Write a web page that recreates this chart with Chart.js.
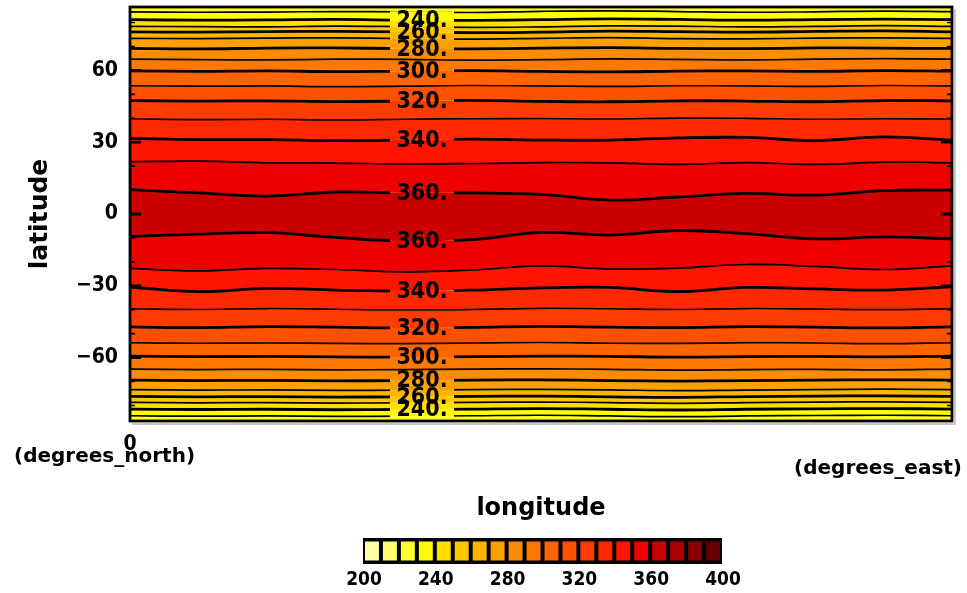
<!DOCTYPE html>
<html>
<head>
<meta charset="utf-8">
<script src="https://cdn.jsdelivr.net/npm/chart.js@4.4.1/dist/chart.umd.min.js"></script>
<style>
  html, body { margin: 0; padding: 0; background: #fff; }
</style>
</head>
<body>
<canvas id="chart" width="967" height="593"></canvas>
<script>
// ── Data ───────────────────────────────────────────────────
const lons = [0, 30, 60, 90, 120, 150, 180, 210, 240, 270, 300, 330, 360];
const levels = [230, 240, 250, 260, 270, 280, 290, 300, 310, 320, 330, 340, 350, 360];

// latitude of each contour at every longitude in `lons`, same order as `levels`
const latNorth = [
    [84.5, 84.3, 84.4, 84.6, 84.5, 84.2, 84.7, 84.9, 84.6, 84.3, 84.5, 84.8, 84.6],
    [81.2, 81.0, 81.1, 81.3, 81.0, 80.9, 81.2, 81.5, 81.3, 81.0, 81.2, 81.4, 81.2],
    [78.4, 78.3, 78.2, 78.5, 78.3, 78.0, 78.2, 78.6, 78.5, 78.2, 78.4, 78.7, 78.4],
    [76.1, 76.0, 76.2, 76.3, 76.1, 75.8, 76.0, 76.4, 76.2, 76.0, 76.3, 76.5, 76.1],
    [73.4, 73.3, 73.5, 73.6, 73.3, 73.1, 73.4, 73.7, 73.3, 73.2, 73.5, 73.6, 73.4],
    [69.2, 69.0, 69.3, 69.4, 69.1, 69.0, 69.3, 69.5, 69.2, 69.1, 69.4, 69.3, 69.2],
    [64.7, 64.5, 64.4, 64.7, 64.6, 64.3, 64.5, 64.8, 64.6, 64.4, 64.7, 64.9, 64.7],
    [59.8, 59.6, 59.8, 59.5, 59.7, 59.9, 59.6, 59.4, 59.7, 59.8, 59.6, 59.9, 59.7],
    [53.6, 53.4, 53.5, 53.2, 53.4, 53.7, 53.5, 53.3, 53.6, 53.5, 53.3, 53.7, 53.5],
    [47.4, 47.2, 47.3, 47.0, 47.2, 47.5, 47.1, 46.9, 47.3, 47.2, 46.9, 47.4, 47.3],
    [39.8, 39.4, 39.6, 39.3, 39.6, 39.8, 39.9, 39.7, 40.1, 40.0, 39.6, 39.8, 39.7],
    [31.6, 31.1, 31.1, 30.7, 30.9, 31.3, 30.9, 30.9, 31.8, 32.0, 30.7, 32.2, 30.9],
    [21.9, 22.1, 21.4, 21.3, 20.9, 21.1, 21.5, 21.4, 20.7, 21.5, 20.7, 21.7, 21.4],
    [10.2,  8.8,  7.5,  9.2,  8.8,  8.8,  8.2,  5.8,  7.1,  8.6,  7.9,  9.8, 10.0],
];
const latSouth = [
    [-84.3, -84.5, -84.4, -84.6, -84.5, -84.3, -84.1, -84.4, -84.7, -84.4, -84.2, -84.1, -84.3],
    [-81.5, -81.7, -81.6, -81.8, -81.7, -81.5, -81.3, -81.6, -81.9, -81.6, -81.4, -81.3, -81.5],
    [-78.7, -78.9, -78.8, -79.0, -78.9, -78.7, -78.6, -78.8, -79.1, -78.8, -78.6, -78.5, -78.7],
    [-76.2, -76.4, -76.3, -76.5, -76.4, -76.2, -76.1, -76.4, -76.6, -76.3, -76.1, -76.0, -76.2],
    [-73.4, -73.6, -73.5, -73.7, -73.6, -73.4, -73.3, -73.5, -73.8, -73.6, -73.4, -73.2, -73.4],
    [-69.4, -69.6, -69.5, -69.7, -69.6, -69.4, -69.3, -69.6, -69.8, -69.6, -69.4, -69.3, -69.4],
    [-64.8, -65.0, -64.9, -65.1, -65.0, -64.8, -64.7, -64.9, -65.2, -65.0, -64.9, -65.1, -64.8],
    [-59.4, -59.6, -59.5, -59.7, -59.8, -59.6, -59.4, -59.5, -59.8, -59.6, -59.5, -59.7, -59.4],
    [-53.8, -54.0, -53.9, -54.1, -54.2, -53.9, -53.7, -54.0, -54.1, -53.8, -53.9, -54.2, -53.8],
    [-47.2, -47.5, -47.1, -47.3, -47.6, -47.4, -47.0, -47.3, -47.5, -47.1, -47.3, -47.6, -47.2],
    [-39.6, -39.9, -39.5, -39.8, -40.1, -39.9, -39.4, -39.6, -39.9, -39.5, -39.7, -40.0, -39.6],
    [-30.6, -32.4, -31.1, -31.8, -32.2, -31.8, -30.9, -30.7, -32.4, -30.7, -31.3, -31.8, -30.4],
    [-22.7, -23.8, -22.7, -23.2, -24.2, -23.4, -21.7, -23.0, -22.6, -21.1, -21.9, -23.2, -21.7],
    [ -9.5,  -8.4,  -7.8,  -9.8, -11.3, -10.7,  -7.7,  -8.8,  -6.9,  -8.2, -10.4,  -9.6, -10.4],
];

// colour key: one colour per 10-unit band from 200 to 400
const barColors = [
    "#ffffa0", "#ffff70", "#ffff30", "#ffff00", "#ffe000",
    "#ffc800", "#ffb400", "#ffa000", "#ff8c00", "#ff7800",
    "#ff6400", "#ff5000", "#ff3c00", "#ff2800", "#ff1400",
    "#ee0000", "#cc0000", "#aa0000", "#880000", "#660000",
];
const barTicks    = [200, 240, 280, 320, 360, 400];
const latTicks    = [-60, -30, 0, 30, 60];
const labelLevels = [240, 260, 280, 300, 320, 340, 360];
const labelLon    = 127;

const FONT  = "'DejaVu Sans', sans-serif";
const NARROW = "'DejaVu Sans Condensed', 'DejaVu Sans', sans-serif";
const bandColor = (low) => barColors[(low - 200) / 10];

// ── Datasets: north contours bottom-up, then south top-down ─
const datasets = [];
function addContour(level, lats, band, first) {
    datasets.push({
        label: String(level),
        level: level,
        data: lons.map((lon, i) => ({ x: lon, y: lats[i] })),
        borderColor: "#000",
        borderWidth: level % 20 === 0 ? 2.8 : 1.7,
        backgroundColor: bandColor(band),
        fill: first ? false : "-1",
        tension: 0.4,
        pointRadius: 0,
    });
}
levels.forEach((lv, i) => addContour(lv, latNorth[i], lv - 10, i === 0));
for (let i = levels.length - 1; i >= 0; i--) addContour(levels[i], latSouth[i], levels[i], false);

// y pixel of a contour at a given longitude (linear between samples)
function yAtLon(meta, lon) {
    const pts = meta.data;
    const k = Math.min(Math.floor(lon / 30), pts.length - 2);
    const t = (lon - lons[k]) / (lons[k + 1] - lons[k]);
    return pts[k].y + (pts[k + 1].y - pts[k].y) * t;
}

// ── Decorations: band background, label gaps, frame, key ───
const decor = {
    id: "decor",
    beforeDraw(chart) {
        const { ctx, chartArea: a } = chart;
        ctx.save();
        ctx.fillStyle = bandColor(220);
        ctx.fillRect(a.left, a.top, a.width, a.height);
        ctx.restore();

        // where the contour labels go
        const cx = chart.scales.x.getPixelForValue(labelLon) + 2;
        chart.$labels = [];
        datasets.forEach((ds, i) => {
            if (!labelLevels.includes(ds.level)) return;
            const cy = yAtLon(chart.getDatasetMeta(i), labelLon);
            chart.$labels.push({ text: ds.level + ".", x: cx, y: cy });
        });
    },
    beforeDatasetDraw(chart) {
        const ctx = chart.ctx;
        ctx.save();
        for (const l of chart.$labels) {
            ctx.beginPath();
            ctx.rect(0, 0, chart.width, chart.height);
            ctx.rect(l.x - 32, l.y - 9, 64, 18);
            ctx.clip("evenodd");
        }
    },
    afterDatasetDraw(chart) {
        chart.ctx.restore();
    },
    afterDatasetsDraw(chart) {
        const { ctx, chartArea: a, scales: { y } } = chart;
        ctx.save();
        // contour labels
        ctx.fillStyle = "#000";
        ctx.font = "bold 23px " + NARROW;
        ctx.textAlign = "center";
        ctx.textBaseline = "middle";
        for (const l of chart.$labels) ctx.fillText(l.text, l.x, l.y + 1);

        // shadow + frame
        ctx.strokeStyle = "#c8c8c8";
        ctx.lineWidth = 2;
        ctx.beginPath();
        ctx.moveTo(a.right + 3, a.top + 2);
        ctx.lineTo(a.right + 3, a.bottom + 3);
        ctx.lineTo(a.left + 2, a.bottom + 3);
        ctx.stroke();
        ctx.strokeStyle = "#000";
        ctx.lineWidth = 2.8;
        ctx.strokeRect(a.left, a.top, a.width, a.height);

        // inward ticks on both sides
        for (let v = -80; v <= 80; v += 10) {
            const py = y.getPixelForValue(v);
            const major = v % 30 === 0;
            const len = major ? 11 : 5;
            ctx.lineWidth = major ? 2.8 : 1.6;
            ctx.beginPath();
            ctx.moveTo(a.left, py);  ctx.lineTo(a.left + len, py);
            ctx.moveTo(a.right, py); ctx.lineTo(a.right - len, py);
            ctx.stroke();
        }
        ctx.restore();
    },
    afterDraw(chart) {
        const ctx = chart.ctx;
        ctx.save();
        ctx.fillStyle = "#000";
        ctx.font = "bold 20px " + FONT;
        ctx.textBaseline = "middle";
        ctx.textAlign = "left";
        ctx.fillText("(degrees_north)", 14, 457);
        ctx.textAlign = "right";
        ctx.fillText("(degrees_east)", 962, 469);

        // colour key
        const kx = 363, ky = 538, kw = 359, kh = 26;
        const cw = kw / barColors.length;
        ctx.fillRect(kx, ky, kw, kh);
        barColors.forEach((c, i) => {
            ctx.fillStyle = c;
            ctx.fillRect(kx + i * cw + 2, ky + 3.5, cw - 4, kh - 7);
        });
        ctx.fillStyle = "#000";
        ctx.font = "bold 19px " + NARROW;
        ctx.textAlign = "center";
        barTicks.forEach((v) => {
            const px = kx + (v - 200) / 200 * kw;
            ctx.fillText(String(v), px + 1, 580);
        });
        ctx.restore();
    },
};

// ── Chart ───────────────────────────────────────────────────
Chart.defaults.font.family = FONT;
Chart.defaults.color = "#000";

new Chart(document.getElementById("chart"), {
    type: "line",
    data: { datasets },
    options: {
        responsive: false,
        animation: false,
        layout: { padding: { left: 25, right: 15, top: 7, bottom: 70 } },
        plugins: {
            legend: { display: false },
            tooltip: { enabled: false },
            filler: { propagate: false },
        },
        scales: {
            x: {
                type: "linear",
                min: 0,
                max: 360,
                afterBuildTicks: (axis) => { axis.ticks = [{ value: 0 }]; },
                afterFit: (axis) => {
                    axis.height = 102;
                    axis.paddingLeft = 0;
                    axis.paddingRight = 0;
                },
                grid: { display: false, drawTicks: false },
                border: { display: false },
                ticks: { padding: 11, maxRotation: 0, font: { size: 21, weight: "bold", family: NARROW } },
                title: {
                    display: true,
                    text: "longitude",
                    font: { size: 24, weight: "bold" },
                    padding: { top: 0, bottom: 0 },
                },
            },
            y: {
                type: "linear",
                min: -86.5,
                max: 86.5,
                afterBuildTicks: (axis) => { axis.ticks = latTicks.map((v) => ({ value: v })); },
                afterFit: (axis) => {
                    axis.width = 105;
                    axis.paddingTop = 0;
                    axis.paddingBottom = 0;
                },
                grid: { display: false, drawTicks: false },
                border: { display: false },
                ticks: {
                    padding: 12,
                    font: { size: 21, weight: "bold", family: NARROW },
                    callback: (v) => (v < 0 ? "\u2212" + Math.abs(v) : String(v)),
                },
                title: {
                    display: true,
                    text: "latitude",
                    font: { size: 25, weight: "bold" },
                    padding: { top: 0, bottom: 0 },
                },
            },
        },
    },
    plugins: [decor],
});
</script>
</body>
</html>
